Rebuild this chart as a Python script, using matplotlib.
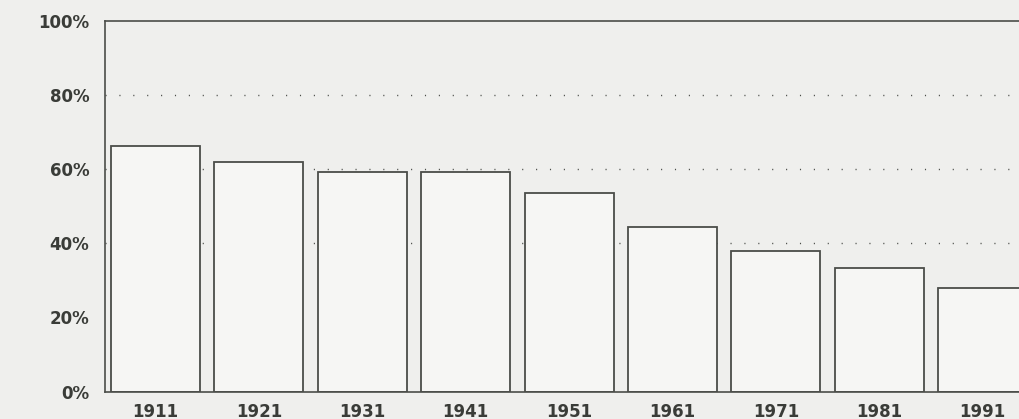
import numpy as np
import matplotlib
matplotlib.use("Agg")
import matplotlib.pyplot as plt

years = ["1911", "1921", "1931", "1941", "1951", "1961", "1971", "1981", "1991"]
share = [66.3, 61.8, 59.2, 59.2, 53.5, 44.5, 38.0, 33.3, 28.0]
yticks = [0, 20, 40, 60, 80, 100]
ytick_labels = ["0%", "20%", "40%", "60%", "80%", "100%"]

paper = "#efefed"
ink = "#4b4d49"

fig = plt.figure(figsize=(10.2, 4.19), dpi=100, facecolor=paper)
ax = fig.add_axes([0.1025, 0.0652, 0.8975, 0.8854])
ax.set_facecolor(paper)

x = np.arange(len(years))
ax.bar(x, share, width=0.86, color="#f6f6f4", edgecolor=ink, linewidth=1.3, zorder=2)

# dotted grid behind the bars
for v in [40, 60, 80]:
    ax.axhline(v, color=ink, linestyle=(0, (0.8, 9.2)), linewidth=1.0, zorder=1)

ax.set_xlim(-0.493, 8.36)
ax.set_ylim(0, 100)
ax.set_yticks(yticks)
ax.set_yticklabels(ytick_labels)
ax.set_xticks(x)
ax.set_xticklabels(years)
ax.tick_params(axis="both", length=0, colors="#3a3c38", labelsize=12)
ax.tick_params(axis="y", pad=11)
ax.tick_params(axis="x", pad=8)
for lab in ax.get_xticklabels() + ax.get_yticklabels():
    lab.set_fontweight("bold")

ax.spines["right"].set_visible(False)
for s in ["left", "top", "bottom"]:
    ax.spines[s].set_color(ink)
    ax.spines[s].set_linewidth(1.2)

fig.savefig("out.png", dpi=100, facecolor=paper)
